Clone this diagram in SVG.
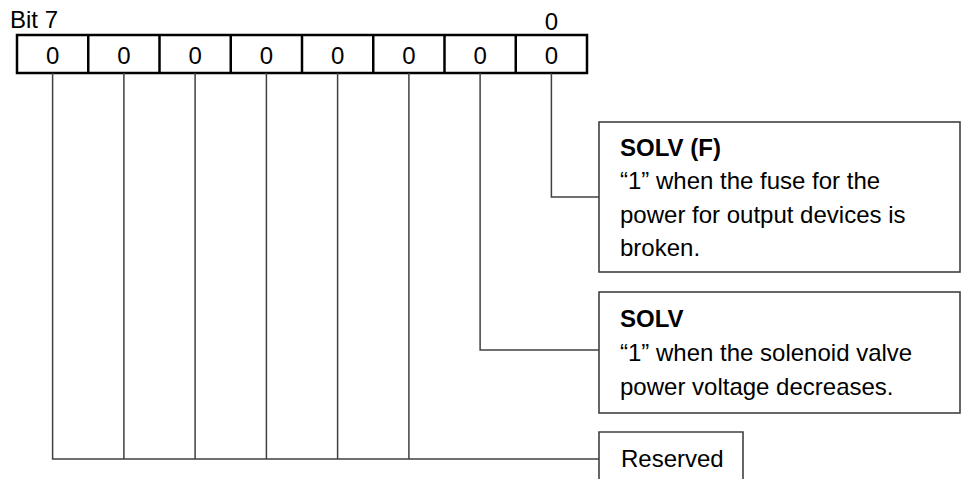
<svg xmlns="http://www.w3.org/2000/svg" width="965" height="479" viewBox="0 0 965 479">
<style>
text{font-family:"Liberation Sans",Arial,sans-serif;font-size:24px;fill:#000}
.b{font-weight:bold}
.c{text-anchor:middle}
.reg{fill:#fff;stroke:#000;stroke-width:2.5}
.box{fill:#fff;stroke:#404040;stroke-width:1.6}
.ln{fill:none;stroke:#404040;stroke-width:1.5}
</style>
<rect width="965" height="479" fill="#fff"/>
<g id="register">
<text x="10" y="28">Bit 7</text>
<text x="551.4" y="30" class="c">0</text>
<rect class="reg" x="17" y="35" width="570" height="38"/>
<path class="reg" d="M88.25 35V73M159.5 35V73M230.75 35V73M302 35V73M373.25 35V73M444.5 35V73M515.75 35V73"/>
<text class="c" x="52.6" y="64">0</text>
<text class="c" x="123.9" y="64">0</text>
<text class="c" x="195.1" y="64">0</text>
<text class="c" x="266.4" y="64">0</text>
<text class="c" x="337.6" y="64">0</text>
<text class="c" x="408.9" y="64">0</text>
<text class="c" x="480.1" y="64">0</text>
<text class="c" x="551.4" y="64">0</text>
</g>
<g id="connectors">
<path class="ln" d="M551.4 73V197H599"/>
<path class="ln" d="M480.1 73V350H599"/>
<path class="ln" d="M52.6 73V459H599M123.9 73V459M195.1 73V459M266.4 73V459M337.6 73V459M408.9 73V459"/>
</g>
<g id="solv-f">
<rect class="box" x="599" y="122" width="361" height="150"/>
<text class="b" x="620" y="156">SOLV (F)</text>
<text x="620" y="189">“1” when the fuse for the</text>
<text x="620" y="223">power for output devices is</text>
<text x="620" y="256">broken.</text>
</g>
<g id="solv">
<rect class="box" x="599" y="292" width="361" height="121"/>
<text class="b" x="620" y="327">SOLV</text>
<text x="620" y="361">“1” when the solenoid valve</text>
<text x="620" y="395">power voltage decreases.</text>
</g>
<g id="reserved">
<path class="box" d="M599 480V432H743V480"/>
<text x="621" y="467">Reserved</text>
</g>
</svg>
